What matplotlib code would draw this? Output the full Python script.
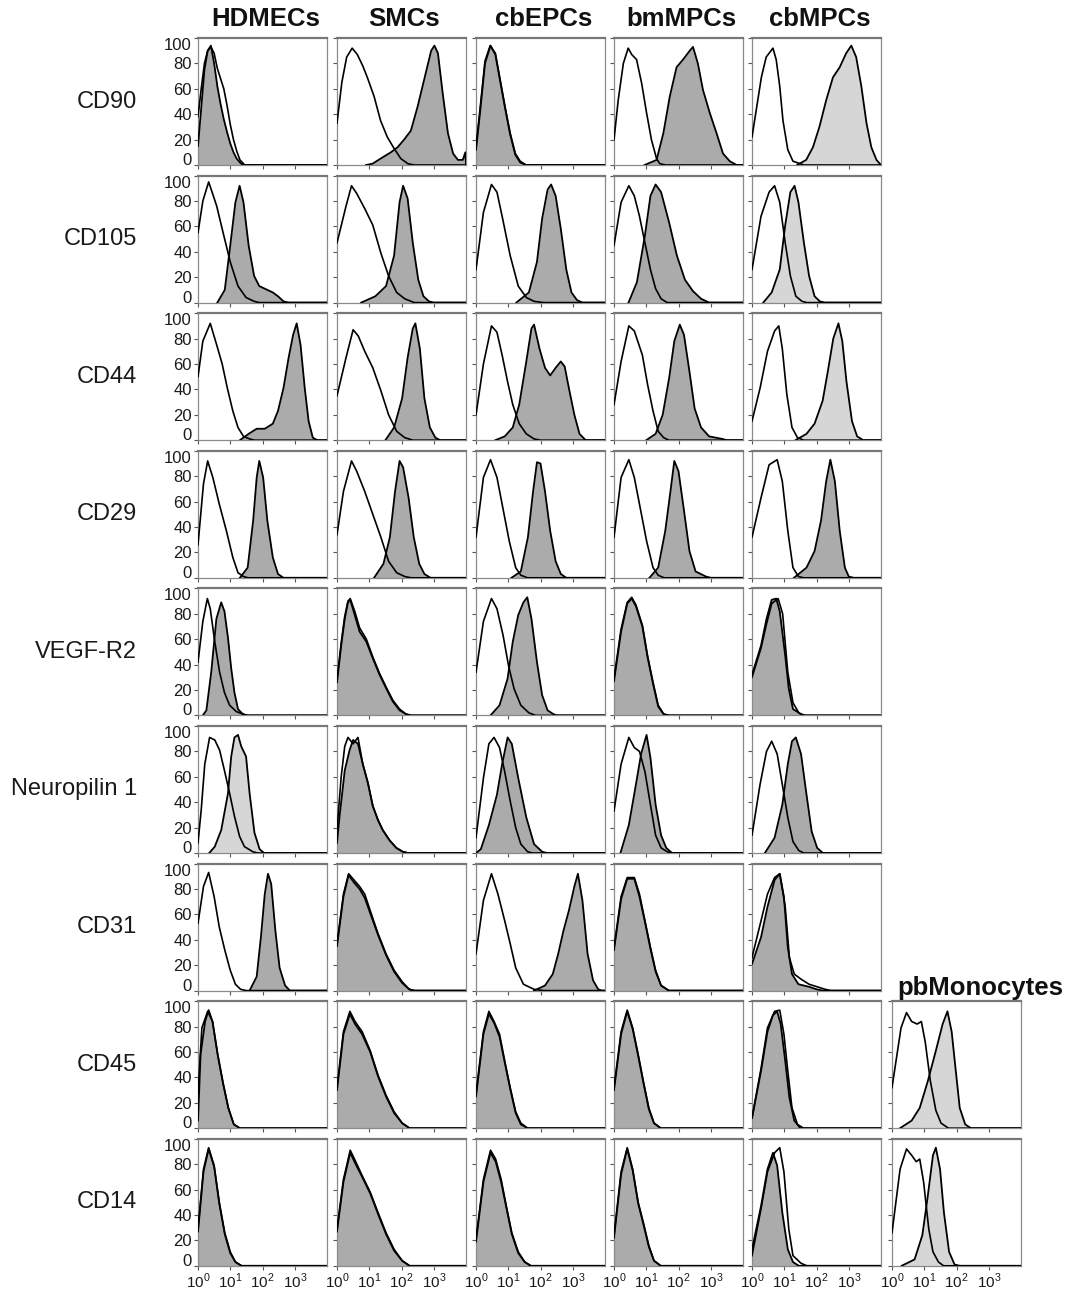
import matplotlib
matplotlib.use("Agg")
import matplotlib.pyplot as plt
from matplotlib.ticker import FixedLocator, LogLocator, NullFormatter

plt.rcParams['font.family'] = ['Liberation Sans', 'DejaVu Sans']
plt.rcParams['mathtext.fontset'] = 'custom'
plt.rcParams['mathtext.rm'] = 'Liberation Sans'

# rows / columns of the figure
markers = ["CD90", "CD105", "CD44", "CD29", "VEGF-R2", "Neuropilin 1", "CD31", "CD45", "CD14"]
cell_types = ["HDMECs", "SMCs", "cbEPCs", "bmMPCs", "cbMPCs", "pbMonocytes"]
y_ticks = [0, 20, 40, 60, 80, 100]
x_decades = [0, 1, 2, 3]

# histogram outlines as (log10 fluorescence, % of max)
# each entry: (isotype control curve, stained curve)
cd90 = {
    "HDMECs": ([(0, 38), (0.1, 60), (0.2, 80), (0.3, 90), (0.4, 93), (0.5, 88), (0.6, 76), (0.7, 68), (0.8, 60),
                (0.9, 47), (1.0, 32), (1.1, 20), (1.2, 11), (1.3, 4), (1.45, 0)],
               [(0, 15), (0.1, 45), (0.2, 75), (0.3, 90), (0.4, 94), (0.5, 80), (0.6, 62), (0.7, 48), (0.8, 36),
                (0.9, 26), (1.0, 17), (1.1, 10), (1.2, 5), (1.3, 2), (1.4, 0)]),
    "SMCs": ([(0, 33), (0.15, 65), (0.3, 85), (0.47, 92), (0.63, 87), (0.8, 78), (0.94, 69), (1.15, 54), (1.35, 35),
              (1.56, 22), (1.77, 13), (1.98, 5), (2.2, 1), (2.4, 0)],
             [(0.9, 0), (1.1, 1), (1.35, 5), (1.67, 10), (1.88, 14), (2.08, 20), (2.29, 27), (2.5, 46), (2.7, 67),
              (2.92, 90), (3.02, 94), (3.13, 88), (3.28, 56), (3.44, 25), (3.6, 9), (3.75, 4), (3.9, 4), (3.98, 10)]),
    "cbEPCs": ([(0, 14), (0.12, 43), (0.28, 82), (0.44, 94), (0.6, 88), (0.75, 67), (0.9, 46), (1.06, 25), (1.22, 9),
                (1.37, 3), (1.55, 0)],
               [(0, 12), (0.12, 40), (0.28, 80), (0.45, 94), (0.6, 87), (0.75, 66), (0.9, 45), (1.06, 24), (1.22, 8),
                (1.37, 2), (1.55, 0)]),
    "bmMPCs": ([(0, 20), (0.13, 51), (0.29, 80), (0.44, 92), (0.55, 87), (0.7, 83), (0.86, 64), (1.01, 41), (1.16, 20),
                (1.32, 5), (1.42, 1), (1.6, 0)],
               [(0.95, 0), (1.32, 4), (1.53, 25), (1.73, 54), (1.94, 77), (2.14, 83), (2.35, 90), (2.45, 93), (2.6, 80),
                (2.76, 59), (2.97, 41), (3.18, 25), (3.38, 9), (3.59, 3), (3.8, 0)]),
    "cbMPCs": ([(0, 22), (0.13, 43), (0.29, 69), (0.44, 85), (0.65, 92), (0.75, 83), (0.86, 62), (0.96, 35), (1.11, 12),
                (1.27, 3), (1.5, 1), (1.6, 0)],
               [(1.4, 0), (1.68, 4), (1.89, 14), (2.09, 30), (2.3, 51), (2.51, 69), (2.72, 77), (2.92, 88), (3.08, 94),
                (3.23, 85), (3.39, 62), (3.55, 33), (3.7, 14), (3.86, 4), (4.0, 0)]),
}
cd105 = {
    "HDMECs": ([(0, 55), (0.15, 80), (0.33, 95), (0.45, 86), (0.58, 76), (0.75, 58), (1.0, 32), (1.24, 13), (1.49, 4),
                (1.74, 1), (1.9, 0)],
               [(0.6, 0), (0.83, 10), (1.0, 45), (1.16, 79), (1.29, 92), (1.41, 79), (1.57, 45), (1.74, 21), (1.9, 13),
                (2.15, 10), (2.32, 8), (2.48, 5), (2.65, 1), (2.8, 0)]),
    "SMCs": ([(0, 47), (0.28, 76), (0.45, 92), (0.61, 86), (0.86, 74), (1.11, 61), (1.36, 39), (1.6, 21), (1.85, 8),
              (2.1, 3), (2.4, 0)],
             [(0.75, 0), (1.19, 5), (1.52, 13), (1.77, 37), (1.94, 79), (2.05, 92), (2.19, 82), (2.35, 47), (2.52, 18),
              (2.68, 5), (2.85, 1), (3.0, 0)]),
    "cbEPCs": ([(0, 26), (0.23, 71), (0.48, 93), (0.65, 87), (0.81, 68), (1.06, 37), (1.31, 13), (1.56, 4), (1.8, 1),
                (2.1, 0)],
               [(1.25, 0), (1.64, 8), (1.89, 32), (2.05, 66), (2.22, 89), (2.33, 93), (2.47, 84), (2.63, 58), (2.8, 26),
                (2.96, 8), (3.13, 2), (3.3, 0)]),
    "bmMPCs": ([(0, 45), (0.22, 79), (0.46, 92), (0.63, 84), (0.79, 68), (0.96, 47), (1.13, 26), (1.29, 11), (1.46, 3),
                (1.65, 0)],
               [(0.45, 0), (0.71, 16), (0.96, 53), (1.13, 84), (1.29, 93), (1.46, 87), (1.71, 63), (1.95, 37), (2.2, 18),
                (2.45, 9), (2.7, 3), (2.95, 0)]),
    "cbMPCs": ([(0, 26), (0.28, 68), (0.53, 87), (0.7, 92), (0.86, 79), (1.03, 47), (1.19, 21), (1.36, 5), (1.55, 1),
                (1.7, 0)],
               [(0.35, 0), (0.61, 8), (0.86, 26), (1.03, 61), (1.19, 87), (1.32, 92), (1.44, 79), (1.61, 47), (1.77, 21),
                (1.94, 5), (2.1, 1), (2.25, 0)]),
}
cd44 = {
    "HDMECs": ([(0, 50), (0.15, 78), (0.38, 92), (0.58, 75), (0.75, 60), (0.91, 41), (1.08, 23), (1.24, 10), (1.41, 3),
                (1.6, 1), (1.75, 0)],
               [(1.3, 0), (1.57, 5), (1.82, 9), (2.07, 9), (2.32, 13), (2.48, 23), (2.65, 41), (2.81, 65), (2.95, 83),
                (3.06, 92), (3.18, 75), (3.31, 41), (3.43, 15), (3.56, 2), (3.7, 0)]),
    "SMCs": ([(0, 35), (0.28, 65), (0.5, 87), (0.66, 82), (0.86, 70), (1.11, 57), (1.36, 39), (1.6, 20), (1.85, 7),
              (2.1, 2), (2.35, 0)],
             [(1.5, 0), (1.77, 10), (2.02, 33), (2.19, 65), (2.35, 88), (2.43, 92), (2.57, 72), (2.71, 33), (2.88, 10),
              (3.05, 2), (3.2, 0)]),
    "cbEPCs": ([(0, 20), (0.23, 60), (0.48, 90), (0.65, 85), (0.81, 67), (0.98, 46), (1.14, 28), (1.34, 13), (1.56, 5),
                (1.8, 1), (2.0, 0)],
               [(0.6, 0), (0.89, 3), (1.14, 10), (1.34, 28), (1.56, 62), (1.72, 88), (1.8, 91), (1.97, 72), (2.14, 57),
                (2.3, 51), (2.47, 57), (2.63, 62), (2.75, 58), (2.88, 41), (3.05, 20), (3.21, 5), (3.4, 0)]),
    "bmMPCs": ([(0, 28), (0.22, 62), (0.46, 90), (0.63, 86), (0.88, 67), (1.04, 44), (1.21, 23), (1.37, 7), (1.54, 2),
                (1.7, 0)],
               [(1.0, 0), (1.29, 5), (1.51, 20), (1.71, 49), (1.87, 78), (2.04, 91), (2.17, 83), (2.34, 54), (2.5, 25),
                (2.7, 10), (2.95, 3), (3.36, 1), (3.5, 0)]),
    "cbMPCs": ([(0, 15), (0.25, 41), (0.48, 70), (0.7, 86), (0.83, 90), (0.94, 72), (1.08, 36), (1.24, 10), (1.41, 2),
                (1.6, 0)],
               [(1.35, 0), (1.69, 5), (1.94, 13), (2.19, 31), (2.35, 54), (2.52, 80), (2.68, 92), (2.8, 78), (2.93, 46),
                (3.1, 15), (3.26, 3), (3.45, 0)]),
}
cd29 = {
    "HDMECs": ([(0, 26), (0.17, 74), (0.3, 92), (0.46, 79), (0.66, 58), (0.88, 37), (1.08, 16), (1.24, 4), (1.41, 1),
                (1.55, 0)],
               [(1.3, 0), (1.54, 8), (1.71, 45), (1.82, 79), (1.9, 92), (2.02, 79), (2.15, 45), (2.32, 16), (2.48, 3),
                (2.65, 0)]),
    "SMCs": ([(0, 34), (0.2, 68), (0.45, 92), (0.61, 84), (0.86, 68), (1.11, 50), (1.36, 32), (1.6, 13), (1.85, 4),
              (2.1, 1), (2.3, 0)],
             [(1.15, 0), (1.44, 11), (1.64, 32), (1.8, 68), (1.94, 92), (2.05, 87), (2.22, 63), (2.38, 32), (2.55, 11),
              (2.71, 3), (2.9, 0)]),
    "cbEPCs": ([(0, 32), (0.23, 79), (0.45, 93), (0.65, 79), (0.81, 58), (1.03, 29), (1.23, 8), (1.39, 2), (1.6, 0)],
               [(1.1, 0), (1.39, 5), (1.61, 32), (1.77, 68), (1.89, 91), (2.0, 90), (2.14, 68), (2.3, 37), (2.47, 13),
                (2.63, 3), (2.8, 0)]),
    "bmMPCs": ([(0, 32), (0.22, 79), (0.46, 93), (0.63, 79), (0.79, 58), (1.01, 29), (1.21, 8), (1.37, 2), (1.55, 0)],
               [(1.1, 0), (1.37, 8), (1.59, 37), (1.75, 68), (1.87, 92), (2.0, 84), (2.17, 53), (2.34, 21), (2.53, 5),
                (2.85, 1), (3.0, 0)]),
    "cbMPCs": ([(0, 32), (0.28, 63), (0.53, 89), (0.78, 93), (0.94, 76), (1.11, 37), (1.27, 8), (1.44, 1), (1.6, 0)],
               [(1.3, 0), (1.69, 8), (1.94, 21), (2.14, 45), (2.3, 76), (2.43, 93), (2.57, 76), (2.72, 37), (2.88, 8),
                (3.0, 1), (3.15, 0)]),
}
vegfr2 = {
    "HDMECs": ([(0, 42), (0.15, 74), (0.29, 92), (0.38, 84), (0.52, 58), (0.67, 34), (0.82, 18), (0.98, 8), (1.19, 3),
                (1.39, 1), (1.55, 0)],
               [(0.15, 0), (0.26, 4), (0.41, 34), (0.57, 76), (0.72, 89), (0.82, 82), (0.93, 61), (1.03, 37), (1.13, 18),
                (1.24, 5), (1.39, 1), (1.5, 0)]),
    "SMCs": ([(0, 28), (0.13, 57), (0.24, 78), (0.34, 90), (0.41, 92), (0.55, 82), (0.7, 69), (0.91, 60), (1.11, 46),
              (1.32, 33), (1.53, 22), (1.73, 12), (1.94, 5), (2.14, 1), (2.3, 0)],
             [(0, 26), (0.13, 55), (0.24, 76), (0.34, 89), (0.41, 91), (0.55, 79), (0.7, 66), (0.91, 58), (1.11, 45),
              (1.32, 32), (1.53, 21), (1.73, 11), (1.94, 4), (2.14, 1), (2.3, 0)]),
    "cbEPCs": ([(0, 34), (0.23, 74), (0.48, 92), (0.65, 84), (0.84, 63), (1.01, 39), (1.18, 21), (1.39, 8), (1.64, 2),
                (1.85, 0)],
               [(0.45, 0), (0.73, 8), (0.98, 29), (1.14, 58), (1.31, 79), (1.47, 89), (1.59, 93), (1.72, 76), (1.89, 42),
                (2.05, 16), (2.22, 4), (2.4, 1), (2.5, 0)]),
    "bmMPCs": ([(0, 29), (0.22, 68), (0.41, 89), (0.55, 93), (0.68, 87), (0.88, 71), (1.04, 47), (1.21, 26), (1.37, 8),
                (1.54, 1), (1.7, 0)],
               [(0, 27), (0.22, 66), (0.41, 88), (0.55, 92), (0.68, 86), (0.88, 70), (1.04, 46), (1.21, 25), (1.37, 7),
                (1.54, 1), (1.7, 0)]),
    "cbMPCs": ([(0, 30), (0.28, 53), (0.45, 72), (0.61, 88), (0.81, 92), (0.95, 80), (1.11, 34), (1.27, 10), (1.45, 2),
                (1.6, 0)],
               [(0, 32), (0.28, 55), (0.45, 76), (0.61, 91), (0.75, 92), (0.86, 82), (1.03, 47), (1.14, 21), (1.27, 5),
                (1.52, 1), (1.65, 0)]),
}
nrp1 = {
    "HDMECs": ([(0, 8), (0.1, 34), (0.21, 70), (0.36, 91), (0.52, 89), (0.67, 81), (0.82, 65), (0.98, 47), (1.13, 29),
                (1.29, 13), (1.44, 5), (1.7, 1), (1.85, 0)],
               [(0.35, 0), (0.52, 5), (0.72, 18), (0.93, 47), (1.03, 76), (1.13, 91), (1.24, 93), (1.34, 84), (1.49, 76),
                (1.6, 47), (1.75, 16), (1.91, 3), (2.05, 0)]),
    "SMCs": ([(0, 18), (0.13, 60), (0.24, 84), (0.34, 91), (0.5, 86), (0.65, 91), (0.8, 70), (0.96, 55), (1.11, 37),
              (1.27, 26), (1.42, 18), (1.63, 10), (1.84, 4), (2.04, 1), (2.2, 0)],
             [(0, 8), (0.08, 29), (0.24, 65), (0.39, 81), (0.5, 89), (0.65, 86), (0.8, 70), (0.96, 55), (1.11, 37),
              (1.27, 26), (1.42, 18), (1.63, 10), (1.84, 4), (2.04, 1), (2.2, 0)]),
    "cbEPCs": ([(0, 12), (0.23, 59), (0.4, 86), (0.56, 91), (0.73, 83), (0.89, 64), (1.06, 41), (1.23, 20), (1.39, 7),
                (1.6, 1), (1.75, 0)],
               [(0, 0), (0.15, 3), (0.4, 22), (0.65, 46), (0.81, 70), (0.98, 91), (1.11, 86), (1.31, 59), (1.56, 28),
                (1.8, 7), (2.05, 1), (2.2, 0)]),
    "bmMPCs": ([(0, 33), (0.22, 70), (0.46, 91), (0.63, 83), (0.79, 80), (0.96, 64), (1.13, 38), (1.29, 14), (1.46, 4),
                (1.65, 1), (1.8, 0)],
               [(0.2, 0), (0.46, 22), (0.68, 54), (0.84, 78), (1.01, 93), (1.13, 75), (1.29, 38), (1.46, 14), (1.62, 4),
                (1.8, 0)]),
    "cbMPCs": ([(0, 14), (0.25, 54), (0.45, 80), (0.61, 88), (0.78, 78), (0.94, 54), (1.11, 28), (1.27, 9), (1.45, 2),
                (1.6, 0)],
               [(0.4, 0), (0.7, 12), (0.94, 38), (1.11, 70), (1.24, 88), (1.36, 91), (1.52, 78), (1.69, 46), (1.85, 17),
                (2.02, 4), (2.2, 0)]),
}
cd31 = {
    "HDMECs": ([(0, 53), (0.17, 82), (0.33, 93), (0.5, 74), (0.66, 50), (0.83, 32), (1.0, 16), (1.16, 5), (1.32, 1),
                (1.5, 0)],
               [(1.6, 0), (1.82, 11), (1.95, 42), (2.07, 76), (2.17, 92), (2.27, 84), (2.4, 47), (2.53, 18), (2.7, 4),
                (2.85, 0)]),
    "SMCs": ([(0, 37), (0.2, 76), (0.36, 92), (0.53, 87), (0.7, 82), (0.86, 76), (1.03, 63), (1.27, 45), (1.52, 29),
              (1.77, 16), (2.02, 7), (2.24, 1), (2.4, 0)],
             [(0, 35), (0.2, 74), (0.36, 91), (0.53, 85), (0.7, 80), (0.86, 73), (1.03, 61), (1.27, 44), (1.52, 28),
              (1.77, 15), (2.02, 6), (2.24, 1), (2.4, 0)]),
    "cbEPCs": ([(0, 29), (0.23, 71), (0.48, 92), (0.68, 76), (0.89, 55), (1.06, 37), (1.23, 18), (1.47, 5), (1.8, 1),
                (2.1, 0)],
               [(1.8, 0), (2.14, 4), (2.38, 13), (2.55, 29), (2.71, 47), (2.88, 63), (3.05, 82), (3.16, 92), (3.3, 71),
                (3.46, 29), (3.63, 8), (3.79, 1), (3.9, 0)]),
    "bmMPCs": ([(0, 34), (0.22, 74), (0.41, 89), (0.63, 89), (0.79, 76), (0.96, 55), (1.13, 34), (1.29, 16), (1.46, 4),
                (1.7, 0)],
               [(0, 32), (0.22, 72), (0.41, 88), (0.63, 88), (0.79, 74), (0.96, 54), (1.13, 33), (1.29, 15), (1.46, 4),
                (1.7, 0)]),
    "cbMPCs": ([(0, 26), (0.28, 55), (0.48, 76), (0.7, 89), (0.86, 92), (1.03, 66), (1.16, 26), (1.31, 13), (1.52, 9),
                (1.77, 5), (2.02, 3), (2.27, 1), (2.45, 0)],
               [(0, 21), (0.28, 42), (0.48, 66), (0.7, 87), (0.86, 92), (0.99, 74), (1.11, 34), (1.24, 13), (1.44, 5),
                (1.77, 3), (2.0, 1), (2.2, 0)]),
}
cd45 = {
    "HDMECs": ([(0, 27), (0.12, 79), (0.3, 92), (0.45, 84), (0.61, 58), (0.78, 35), (0.94, 16), (1.11, 3), (1.3, 0)],
               [(0, 6), (0.08, 58), (0.22, 84), (0.33, 93), (0.45, 84), (0.61, 58), (0.78, 35), (0.94, 16), (1.11, 3),
                (1.3, 0)]),
    "SMCs": ([(0, 32), (0.2, 76), (0.4, 92), (0.56, 84), (0.78, 76), (1.03, 61), (1.27, 42), (1.52, 26), (1.77, 13),
              (2.02, 4), (2.25, 0)],
             [(0, 30), (0.2, 74), (0.4, 90), (0.56, 82), (0.78, 74), (1.03, 60), (1.27, 41), (1.52, 25), (1.77, 12),
              (2.02, 4), (2.25, 0)]),
    "cbEPCs": ([(0, 27), (0.23, 76), (0.4, 92), (0.56, 84), (0.73, 74), (0.89, 53), (1.06, 32), (1.23, 13), (1.39, 4),
                (1.6, 0)],
               [(0, 25), (0.23, 74), (0.4, 90), (0.56, 83), (0.73, 72), (0.89, 52), (1.06, 31), (1.23, 12), (1.39, 3),
                (1.6, 0)]),
    "bmMPCs": ([(0, 32), (0.22, 76), (0.41, 93), (0.58, 79), (0.75, 58), (0.91, 37), (1.08, 16), (1.24, 4), (1.45, 0)],
               [(0, 30), (0.22, 74), (0.41, 92), (0.58, 78), (0.75, 57), (0.91, 36), (1.08, 15), (1.24, 4), (1.45, 0)]),
    "cbMPCs": ([(0, 8), (0.28, 47), (0.48, 79), (0.7, 92), (0.86, 93), (0.99, 74), (1.11, 45), (1.24, 16), (1.41, 3),
                (1.6, 0)],
               [(0, 8), (0.28, 45), (0.48, 76), (0.65, 89), (0.78, 92), (0.89, 82), (1.03, 53), (1.16, 24), (1.31, 6),
                (1.5, 0)]),
    "pbMonocytes": ([(0, 32), (0.28, 79), (0.45, 91), (0.61, 84), (0.78, 82), (0.91, 84), (1.03, 68), (1.19, 37),
                     (1.36, 14), (1.52, 4), (1.75, 0)],
                    [(0.25, 0), (0.61, 6), (0.86, 16), (1.11, 37), (1.36, 61), (1.57, 82), (1.72, 92), (1.85, 76),
                     (1.97, 47), (2.1, 16), (2.27, 3), (2.45, 0)]),
}
cd14 = {
    "HDMECs": ([(0, 29), (0.17, 76), (0.33, 93), (0.5, 79), (0.66, 50), (0.83, 26), (1.0, 11), (1.16, 3), (1.35, 0)],
               [(0, 27), (0.17, 74), (0.33, 92), (0.5, 78), (0.66, 49), (0.83, 25), (1.0, 10), (1.16, 3), (1.35, 0)]),
    "SMCs": ([(0, 29), (0.2, 68), (0.41, 91), (0.58, 82), (0.78, 71), (1.03, 58), (1.27, 42), (1.52, 26), (1.77, 13),
              (2.02, 4), (2.25, 0)],
             [(0, 27), (0.2, 66), (0.41, 89), (0.58, 80), (0.78, 70), (1.03, 57), (1.27, 41), (1.52, 25), (1.77, 12),
              (2.02, 4), (2.25, 0)]),
    "cbEPCs": ([(0, 21), (0.23, 68), (0.45, 91), (0.61, 84), (0.78, 68), (0.94, 47), (1.11, 26), (1.31, 11), (1.51, 3),
                (1.7, 0)],
               [(0, 19), (0.23, 66), (0.45, 89), (0.61, 82), (0.78, 66), (0.94, 46), (1.11, 25), (1.31, 10), (1.51, 3),
                (1.7, 0)]),
    "bmMPCs": ([(0, 24), (0.22, 74), (0.41, 93), (0.58, 76), (0.75, 50), (0.91, 34), (1.08, 16), (1.24, 4), (1.45, 0)],
               [(0, 22), (0.22, 72), (0.41, 92), (0.58, 75), (0.75, 49), (0.91, 33), (1.08, 15), (1.24, 4), (1.45, 0)]),
    "cbMPCs": ([(0, 8), (0.28, 45), (0.48, 74), (0.7, 89), (0.86, 93), (0.99, 74), (1.14, 29), (1.27, 8), (1.52, 2),
                (1.7, 0)],
               [(0, 13), (0.28, 47), (0.48, 76), (0.65, 89), (0.78, 79), (0.94, 42), (1.11, 13), (1.27, 3), (1.45, 0)]),
    "pbMonocytes": ([(0, 26), (0.25, 76), (0.45, 92), (0.61, 87), (0.75, 82), (0.86, 84), (0.98, 66), (1.14, 29),
                     (1.27, 11), (1.44, 3), (1.6, 0)],
                    [(0.3, 0), (0.7, 5), (0.94, 24), (1.11, 55), (1.27, 87), (1.36, 93), (1.49, 76), (1.61, 42),
                     (1.77, 11), (1.94, 1), (2.1, 0)]),
}
panels = [cd90, cd105, cd44, cd29, vegfr2, nrp1, cd31, cd45, cd14]

# stained histograms drawn in the lighter grey
light_fill = {("CD90", "cbMPCs"), ("CD105", "cbMPCs"), ("CD44", "cbMPCs"), ("Neuropilin 1", "HDMECs"),
              ("CD45", "pbMonocytes"), ("CD14", "pbMonocytes")}

# layout in pixels
W, H = 1070, 1293
col_left = [198, 337, 476, 614, 752, 892]
panel_w, panel_h = 129, 127
row_top0, row_step = 38, 137.6
X_MAX = 4.0

fig = plt.figure(figsize=(W / 100, H / 100), dpi=100)
fig.patch.set_facecolor("white")


def fx(px):
    return px / W


def fy(py):
    return 1 - py / H


for r, (marker, data) in enumerate(zip(markers, panels)):
    top = row_top0 + r * row_step
    for c, cell in enumerate(cell_types):
        if cell not in data:
            continue
        ax = fig.add_axes([fx(col_left[c]), fy(top + panel_h), panel_w / W, panel_h / H])
        ax.set_xscale("log")
        ax.set_xlim(1, 10 ** X_MAX)
        ax.set_ylim(0, 100)

        iso, stained = data[cell]
        fill_col = "#d6d6d6" if (marker, cell) in light_fill else "#ababab"

        sx = [10 ** p[0] for p in stained] + [10 ** X_MAX]
        sy = [p[1] for p in stained] + [0]
        ax.fill_between(sx, sy, 0, color=fill_col, lw=0, zorder=1)
        ax.plot(sx, sy, color="black", lw=1.3, zorder=3)

        ix = [10 ** p[0] for p in iso] + [10 ** X_MAX]
        iy = [p[1] for p in iso] + [0]
        ax.plot(ix, iy, color="black", lw=1.2, zorder=4)

        for s in ax.spines.values():
            s.set_color("#8a8a8a")
            s.set_linewidth(0.9)
        ax.spines["top"].set_linewidth(1.6)
        ax.spines["top"].set_color("#777777")

        ax.yaxis.set_major_locator(FixedLocator(y_ticks))
        ax.xaxis.set_major_locator(FixedLocator([10 ** d for d in x_decades]))
        ax.xaxis.set_minor_locator(LogLocator(base=10, subs=range(2, 10)))
        ax.xaxis.set_minor_formatter(NullFormatter())
        ax.tick_params(axis="both", which="major", direction="out", length=3, width=0.8, color="#555555", pad=1.5)
        ax.tick_params(axis="x", which="minor", direction="out", length=1.8, width=0.6, color="#777777")

        if c == 0:
            labels = ax.set_yticklabels([str(v) for v in y_ticks], fontsize=12, color="#1a1a1a")
            # keep the stacked "0" / "100" of neighbouring rows apart
            labels[0].set_va("baseline")
            labels[-1].set_va("top")
        else:
            ax.set_yticklabels([])
        if r == len(markers) - 1:
            ax.set_xticklabels([r"$10^{%d}$" % d for d in x_decades], fontsize=11, color="#1a1a1a")
        else:
            ax.set_xticklabels([])

    fig.text(fx(137), fy(top + panel_h / 2), marker, ha="right", va="center", fontsize=17, color="#1a1a1a")

# column titles
for c, cell in enumerate(cell_types[:5]):
    fig.text(fx(col_left[c] + panel_w / 2 + 3), fy(26), cell, ha="center", va="baseline",
             fontsize=18.5, fontweight="bold", color="#111111")
fig.text(fx(980), fy(row_top0 + 7 * row_step - 6), cell_types[5], ha="center", va="baseline",
         fontsize=18.5, fontweight="bold", color="#111111")

fig.savefig("out.png", dpi=100, facecolor="white")
